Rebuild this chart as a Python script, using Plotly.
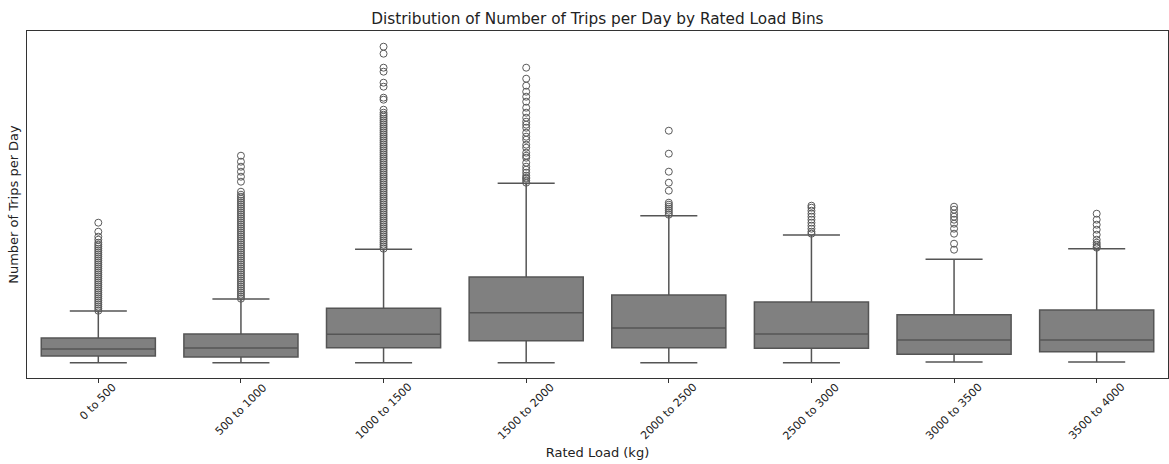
import plotly.graph_objects as go

categories = ["0 to 500", "500 to 1000", "1000 to 1500", "1500 to 2000",
              "2000 to 2500", "2500 to 3000", "3000 to 3500", "3500 to 4000"]

lower_whisker = [1.0, 1.0, 1.0, 1.0, 1.0, 1.0, 1.07, 1.07]
q1_values = [1.67, 1.57, 2.5, 3.2, 2.5, 2.44, 1.84, 2.1]
median_values = [2.37, 2.47, 3.84, 6.0, 4.47, 3.87, 3.27, 3.27]
q3_values = [3.47, 3.87, 6.44, 9.57, 7.77, 7.07, 5.8, 6.27]
upper_whisker = [6.17, 7.37, 12.34, 18.94, 15.7, 13.77, 11.34, 12.4]

outliers_0 = [6.2, 6.4, 6.6, 6.8, 7.0, 7.2, 7.4, 7.6, 7.8, 8.0, 8.2, 8.4, 8.6, 8.8,
              9.0, 9.2, 9.4, 9.6, 9.8, 10.0, 10.2, 10.4, 10.6, 10.8, 11.0, 11.2,
              11.4, 11.6, 11.8, 12.0, 12.2, 12.4, 12.6, 12.8, 13.0, 13.3, 13.6,
              14.1, 15.0]
outliers_1 = [7.4, 7.6, 7.8, 8.0, 8.2, 8.4, 8.6, 8.8, 9.0, 9.2, 9.4, 9.6, 9.8,
              10.0, 10.2, 10.4, 10.6, 10.8, 11.0, 11.2, 11.4, 11.6, 11.8, 12.0,
              12.2, 12.4, 12.6, 12.8, 13.0, 13.2, 13.4, 13.6, 13.8, 14.0, 14.2,
              14.4, 14.6, 14.8, 15.0, 15.2, 15.4, 15.6, 15.8, 16.0, 16.2, 16.4,
              16.6, 16.8, 17.0, 17.2, 17.4, 17.6, 17.8, 18.1,
              19.1, 19.6, 20.1, 20.6, 21.1, 21.7]
outliers_2 = [12.4, 12.6, 12.8, 13.0, 13.2, 13.4, 13.6, 13.8, 14.0, 14.2, 14.4,
              14.6, 14.8, 15.0, 15.2, 15.4, 15.6, 15.8, 16.0, 16.2, 16.4, 16.6,
              16.8, 17.0, 17.2, 17.4, 17.6, 17.8, 18.0, 18.2, 18.4, 18.6, 18.8,
              19.0, 19.2, 19.4, 19.6, 19.8, 20.0, 20.2, 20.4, 20.6, 20.8, 21.0,
              21.2, 21.4, 21.6, 21.8, 22.0, 22.2, 22.4, 22.6, 22.8, 23.0, 23.2,
              23.4, 23.6, 23.8, 24.0, 24.2, 24.4, 24.6, 24.8, 25.0, 25.2, 25.4,
              25.6, 25.8, 26.0, 26.3, 27.3, 27.5, 28.6, 29.0, 30.1, 30.5, 31.9, 32.6]
outliers_3 = [19.0, 19.2, 19.4, 19.5, 19.7, 20.0, 20.3, 20.6, 21.0, 21.5, 21.7,
              22.0, 22.5, 22.8, 23.3, 23.6, 24.0, 24.5, 24.8, 25.1, 25.5, 26.0,
              26.5, 27.1, 27.6, 28.1, 28.7, 29.4, 30.5]
outliers_4 = [15.8, 16.0, 16.2, 16.4, 16.6, 16.8, 17.0, 18.2, 19.0, 20.1, 21.9, 24.2]
outliers_5 = [13.9, 14.1, 14.4, 14.7, 15.0, 15.3, 15.6, 15.9, 16.2, 16.5, 16.7]
outliers_6 = [12.3, 12.9, 13.9, 14.4, 14.9, 15.3, 15.6, 15.9, 16.3, 16.6]
outliers_7 = [12.5, 12.6, 12.8, 13.0, 13.3, 13.8, 14.3, 14.8, 15.3, 15.9]

all_outliers = [outliers_0, outliers_1, outliers_2, outliers_3,
                outliers_4, outliers_5, outliers_6, outliers_7]

FONT = "DejaVu Sans"
TXT = "#222222"
fig = go.Figure()

fig.add_trace(go.Box(
    x=categories,
    q1=q1_values, median=median_values, q3=q3_values,
    lowerfence=lower_whisker, upperfence=upper_whisker,
    boxpoints=False,
    width=0.8,
    fillcolor="#808080",
    line=dict(color="#555555", width=1.5),
    whiskerwidth=0.5,
    showlegend=False,
    hoverinfo="skip",
))

ox, oy = [], []
for cat, vals in zip(categories, all_outliers):
    ox.extend([cat] * len(vals))
    oy.extend(vals)

fig.add_trace(go.Scatter(
    x=ox, y=oy, mode="markers",
    marker=dict(symbol="circle-open", size=7, color="#5a5a5a",
                line=dict(width=1, color="#5a5a5a")),
    showlegend=False, hoverinfo="skip",
))

# rotated tick labels centred on their ticks (matplotlib style)
for cat in categories:
    fig.add_annotation(
        x=cat, y=0, xref="x", yref="paper",
        text=cat, textangle=-45, showarrow=False,
        xanchor="center", yanchor="top", yshift=0,
        font=dict(size=11, family=FONT, color=TXT),
    )

fig.update_layout(
    width=1169, height=464,
    margin=dict(l=27, r=1, t=31, b=86),
    paper_bgcolor="white", plot_bgcolor="white",
    font=dict(family=FONT, color=TXT),
    title=dict(text="Distribution of Number of Trips per Day by Rated Load Bins",
               x=0.511, xanchor="center", y=(464 - 19) / 464, yanchor="middle",
               yref="container", font=dict(size=15.3, family=FONT, color=TXT)),
)

fig.update_xaxes(
    type="category", categoryorder="array", categoryarray=categories,
    range=[-0.5, len(categories) - 0.5],
    showline=True, linecolor="#333333", linewidth=1, mirror=True,
    ticks="outside", ticklen=4, tickcolor="#333333",
    showticklabels=False,
    showgrid=False, zeroline=False,
    title=dict(text="Rated Load (kg)", font=dict(size=13, family=FONT, color=TXT),
               standoff=65),
)
fig.update_yaxes(
    range=[-0.53, 34.17],
    showline=True, linecolor="#333333", linewidth=1, mirror=True,
    showticklabels=False, ticks="", showgrid=False, zeroline=False,
    title=dict(text="Number of Trips per Day", font=dict(size=13, family=FONT, color=TXT),
               standoff=4),
)

fig.write_html("out.html")
